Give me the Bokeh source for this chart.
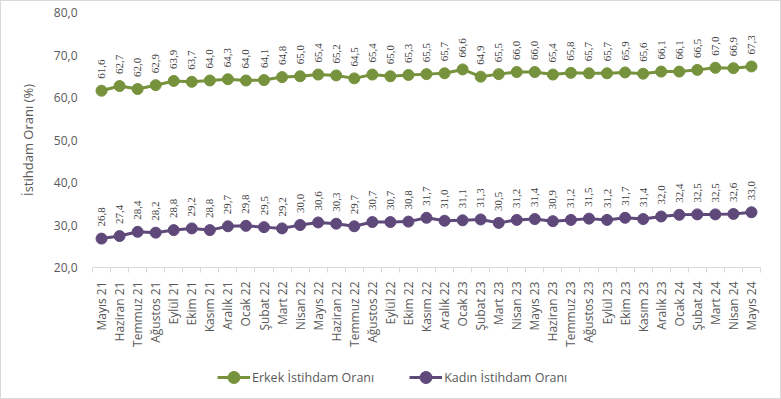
from math import pi
from bokeh.plotting import figure
from bokeh.layouts import column
from bokeh.models import (ColumnDataSource, Range1d, LinearAxis, FixedTicker,
                          LabelSet, Legend, LegendItem)
from bokeh.embed import file_html
from bokeh.resources import INLINE

months = ["Mayıs 21", "Haziran 21", "Temmuz 21", "Ağustos 21", "Eylül 21", "Ekim 21",
          "Kasım 21", "Aralık 21", "Ocak 22", "Şubat 22", "Mart 22", "Nisan 22",
          "Mayıs 22", "Haziran 22", "Temmuz 22", "Ağustos 22", "Eylül 22", "Ekim 22",
          "Kasım 22", "Aralık 22", "Ocak 23", "Şubat 23", "Mart 23", "Nisan 23",
          "Mayıs 23", "Haziran 23", "Temmuz 23", "Ağustos 23", "Eylül 23", "Ekim 23",
          "Kasım 23", "Aralık 23", "Ocak 24", "Şubat 24", "Mart 24", "Nisan 24",
          "Mayıs 24"]
erkek = [61.6, 62.7, 62.0, 62.9, 63.9, 63.7, 64.0, 64.3, 64.0, 64.1, 64.8, 65.0,
         65.4, 65.2, 64.5, 65.4, 65.0, 65.3, 65.5, 65.7, 66.6, 64.9, 65.5, 66.0,
         66.0, 65.4, 65.8, 65.7, 65.7, 65.9, 65.6, 66.1, 66.1, 66.5, 67.0, 66.9, 67.3]
kadin = [26.8, 27.4, 28.4, 28.2, 28.8, 29.2, 28.8, 29.7, 29.8, 29.5, 29.2, 30.0,
         30.6, 30.3, 29.7, 30.7, 30.7, 30.8, 31.7, 31.0, 31.1, 31.3, 30.5, 31.2,
         31.4, 30.9, 31.2, 31.5, 31.2, 31.7, 31.4, 32.0, 32.4, 32.5, 32.5, 32.6, 33.0]
series_names = ["Erkek İstihdam Oranı", "Kadın İstihdam Oranı"]
y_ticks = [20, 30, 40, 50, 60, 70, 80]

GREEN = "#76923C"
PURPLE = "#5F497A"
FONT = "Open Sans"

def fmt(v):
    return f"{v:.1f}".replace(".", ",")

xs = [i + 0.5 for i in range(len(months))]
src_e = ColumnDataSource(dict(x=xs, y=erkek, t=[fmt(v) for v in erkek]))
src_k = ColumnDataSource(dict(x=xs, y=kadin, t=[fmt(v) for v in kadin]))

p = figure(width=779, height=352, output_backend="svg", toolbar_location=None,
           x_range=Range1d(0, len(months)), y_range=Range1d(20, 80),
           x_axis_type=None, min_border_left=91, min_border_right=20,
           min_border_top=11, min_border_bottom=86)
p.outline_line_color = None
p.xgrid.visible = False
p.ygrid.visible = False

# y axis
ya = p.yaxis[0]
ya.ticker = FixedTicker(ticks=y_ticks)
ya.major_label_overrides = {t: fmt(t) for t in y_ticks}
ya.axis_line_color = None
ya.major_tick_line_color = None
ya.minor_tick_line_color = None
ya.major_label_standoff = 9
ya.major_label_text_font = FONT
ya.major_label_text_font_size = "12px"
ya.major_label_text_color = "#595959"
ya.axis_label = "İstihdam Oranı (%)"
ya.axis_label_text_font = FONT
ya.axis_label_text_font_size = "13px"
ya.axis_label_text_font_style = "normal"
ya.axis_label_text_color = "#595959"
ya.axis_label_standoff = 14

# x axis: tick marks between categories
xa1 = LinearAxis(ticker=FixedTicker(ticks=list(range(len(months) + 1))),
                 major_label_overrides={i: "" for i in range(len(months) + 1)})
xa1.axis_line_color = "#d9d9d9"
xa1.major_tick_line_color = "#d9d9d9"
xa1.major_tick_in = 0
xa1.major_tick_out = 5
xa1.minor_tick_line_color = None
xa1.major_label_standoff = 0
xa1.major_label_text_font_size = "1px"
p.add_layout(xa1, "below")

# x axis: category labels
xa2 = LinearAxis(ticker=FixedTicker(ticks=xs),
                 major_label_overrides={x: m for x, m in zip(xs, months)})
xa2.axis_line_color = None
xa2.major_tick_line_color = None
xa2.minor_tick_line_color = None
xa2.major_label_orientation = pi / 2
xa2.major_label_standoff = 3
xa2.major_label_text_font = FONT
xa2.major_label_text_font_size = "12px"
xa2.major_label_text_color = "#595959"
p.add_layout(xa2, "below")

p.line("x", "y", source=src_e, line_color=GREEN, line_width=3)
p.scatter("x", "y", source=src_e, size=11, fill_color=GREEN, line_color=GREEN)
p.line("x", "y", source=src_k, line_color=PURPLE, line_width=3)
p.scatter("x", "y", source=src_k, size=11, fill_color=PURPLE, line_color=PURPLE)

for src in (src_e, src_k):
    lab = LabelSet(x="x", y="y", text="t", source=src, angle=pi / 2,
                   text_align="left", text_baseline="middle", x_offset=0, y_offset=12,
                   text_font=FONT, text_font_size="11px", text_color="#404040")
    p.add_layout(lab)

# legend strip: a separate figure whose view range hides the series,
# its renderers only provide the legend glyphs
pl = figure(width=779, height=45, output_backend="svg", toolbar_location=None,
            x_range=Range1d(0, 1), y_range=Range1d(0, 1),
            x_axis_type=None, y_axis_type=None,
            min_border_left=0, min_border_right=0, min_border_top=0, min_border_bottom=0)
pl.outline_line_color = None
pl.xgrid.visible = False
pl.ygrid.visible = False
items = []
for name, col, src in zip(series_names, [GREEN, PURPLE], [src_e, src_k]):
    r1 = pl.line("x", "y", source=src, line_color=col, line_width=3)
    r2 = pl.scatter("x", "y", source=src, size=11, fill_color=col, line_color=col)
    items.append(LegendItem(label=name, renderers=[r1, r2]))

legend = Legend(items=items, orientation="horizontal", location=(125, 6),
                label_text_font=FONT, label_text_font_size="12.5px",
                label_text_color="#595959", glyph_width=33, glyph_height=30,
                label_height=30, padding=4, spacing=35, margin=0,
                label_standoff=2, border_line_color=None, background_fill_alpha=0)
pl.add_layout(legend, "center")

layout = column(p, pl, spacing=0, styles={"border": "1px solid #d9d9d9"})

open("out.html", "w").write(file_html(layout, INLINE))
